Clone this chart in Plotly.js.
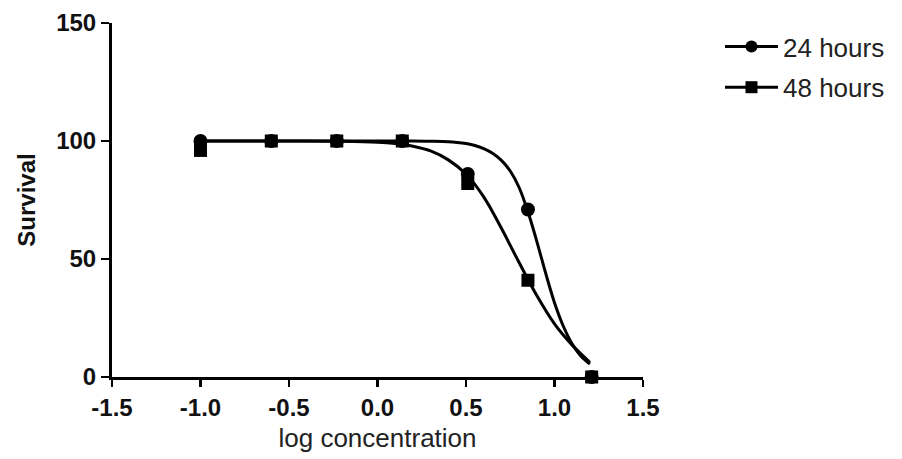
<!DOCTYPE html>
<html>
<head>
<meta charset="utf-8">
<script src="https://cdn.plot.ly/plotly-3.0.1.min.js"></script>
<style>
  html, body { margin: 0; padding: 0; background: #ffffff; }
  #chart { width: 902px; height: 459px; }
</style>
</head>
<body>
<div id="chart"></div>
<script>
// Measured survival at each log concentration
const logConc = [-1.0, -0.6, -0.23, 0.14, 0.51, 0.85, 1.21];
const survival24 = [100, 100, 100, 100, 86, 71, 0];
const survival48 = [96, 100, 100, 100, 82, 41, 0];

// Fitted dose-response curves
const fitX24 = [-1.0, -0.5, 0.0, 0.2, 0.3, 0.4, 0.45, 0.5, 0.55, 0.6, 0.65, 0.7, 0.75, 0.8, 0.85, 0.9, 0.95, 1.0, 1.05, 1.1, 1.15, 1.2];
const fitY24 = [100, 100, 100, 100, 99.9, 99.7, 99.4, 98.9, 98.1, 96.8, 94.8, 91.8, 87.3, 80.3, 70.0, 57.5, 44.0, 31.5, 21.5, 14.0, 8.8, 5.5];
const fitX48 = [-1.0, -0.5, -0.2, 0.0, 0.1, 0.2, 0.3, 0.4, 0.5, 0.6, 0.7, 0.8, 0.9, 1.0, 1.1, 1.2];
const fitY48 = [100, 100, 99.9, 99.5, 98.9, 97.8, 95.8, 92.0, 86.0, 76.3, 63.0, 48.5, 34.5, 22.5, 13.5, 6.2];

// Axis ticks
const xTickVals = [-1.5, -1.0, -0.5, 0.0, 0.5, 1.0, 1.5];
const xTickText = ['-1.5', '-1.0', '-0.5', '0.0', '0.5', '1.0', '1.5'];
const yTickVals = [0, 50, 100, 150];

const seriesNames = ['24 hours', '48 hours'];

const ink = '#000000';
const lineW = 3;
const fontFam = 'Liberation Sans, Arial, sans-serif';

const traces = [
  { x: fitX24, y: fitY24, mode: 'lines', line: { color: ink, width: lineW, shape: 'spline', smoothing: 1 },
    showlegend: false, hoverinfo: 'skip', cliponaxis: false },
  { x: fitX48, y: fitY48, mode: 'lines', line: { color: ink, width: lineW, shape: 'spline', smoothing: 1 },
    showlegend: false, hoverinfo: 'skip', cliponaxis: false },
  { x: logConc, y: survival24, mode: 'markers', marker: { symbol: 'circle', size: 14, color: ink },
    showlegend: false, cliponaxis: false },
  { x: logConc, y: survival48, mode: 'markers', marker: { symbol: 'square', size: 13, color: ink },
    showlegend: false, cliponaxis: false },
  // legend entries (line + marker glyph)
  { x: [null], y: [null], mode: 'lines+markers', name: seriesNames[0], legendgroup: 'a',
    line: { color: ink, width: lineW }, marker: { symbol: 'circle', size: 12, color: ink } },
  { x: [null], y: [null], mode: 'lines+markers', name: seriesNames[1], legendgroup: 'b',
    line: { color: ink, width: lineW }, marker: { symbol: 'square', size: 12, color: ink } }
];

const layout = {
  width: 902,
  height: 459,
  margin: { l: 112, r: 259, t: 23, b: 82 },
  paper_bgcolor: '#ffffff',
  plot_bgcolor: '#ffffff',
  font: { family: fontFam, color: ink },
  showlegend: true,
  legend: {
    x: 1.145, xanchor: 'left', y: 1.0, yanchor: 'top',
    font: { size: 26, color: '#222222' },
    itemwidth: 53,
    tracegroupgap: 4,
    traceorder: 'grouped',
    bgcolor: 'rgba(0,0,0,0)'
  },
  xaxis: {
    range: [-1.5, 1.5],
    tickmode: 'array', tickvals: xTickVals, ticktext: xTickText,
    ticks: 'outside', ticklen: 7, tickwidth: 2.5, tickcolor: ink,
    showline: true, linewidth: 3, linecolor: ink,
    showgrid: false, zeroline: false,
    tickfont: { size: 24, family: fontFam, weight: 'bold', color: '#111111' },
    title: { text: 'log concentration', font: { size: 26, color: '#222222' }, standoff: 10 }
  },
  yaxis: {
    range: [0, 150],
    tickmode: 'array', tickvals: yTickVals,
    ticks: 'outside', ticklen: 8, tickwidth: 2.5, tickcolor: ink,
    showline: true, linewidth: 3, linecolor: ink,
    showgrid: false, zeroline: false,
    tickfont: { size: 24, family: fontFam, weight: 'bold', color: '#111111' },
    title: { text: 'Survival', font: { size: 24, weight: 'bold', color: '#111111' }, standoff: 14 }
  }
};

Plotly.newPlot('chart', traces, layout, { staticPlot: true, displayModeBar: false });
</script>
</body>
</html>
